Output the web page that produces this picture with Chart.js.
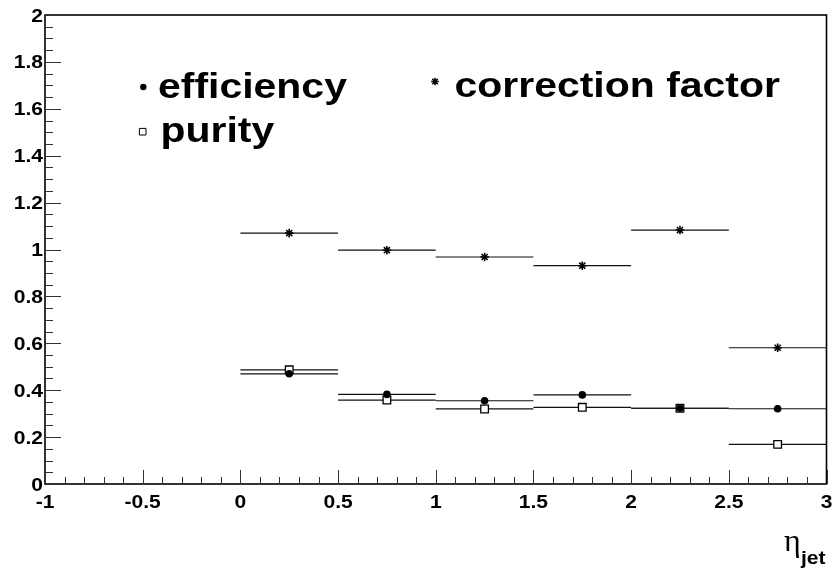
<!DOCTYPE html>
<html>
<head>
<meta charset="utf-8">
<script src="https://cdn.jsdelivr.net/npm/chart.js@4.4.1/dist/chart.umd.min.js"></script>
<style>
body { margin: 0; background: #fff; }
#wrap { width: 834px; height: 568px; position: relative; }
</style>
</head>
<body>
<div id="wrap"><canvas id="chart"></canvas></div>
<script>
// eta bins
var etaLow  = [0.0, 0.5, 1.0, 1.5, 2.0, 2.5];
var etaHigh = [0.5, 1.0, 1.5, 2.0, 2.5, 3.0];
var etaMid  = [0.25, 0.75, 1.25, 1.75, 2.25, 2.75];

var efficiency = [0.470, 0.382, 0.355, 0.380, 0.323, 0.321];
var purity     = [0.487, 0.358, 0.320, 0.327, 0.323, 0.169];
var corrFactor = [1.070, 0.997, 0.968, 0.931, 1.083, 0.581];

var xTickLabels = ['-1', '-0.5', '0', '0.5', '1', '1.5', '2', '2.5', '3'];
var yTickLabels = ['0', '0.2', '0.4', '0.6', '0.8', '1', '1.2', '1.4', '1.6', '1.8', '2'];

function points(ys) {
  return etaMid.map(function(x, i) { return { x: x, y: ys[i] }; });
}

// helvetica-ish text, a bit wider than the stock glyphs
var SX = 1.17;
function wideText(ctx, txt, x, y, font, align) {
  ctx.save();
  ctx.translate(x, y);
  ctx.scale(SX, 1);
  ctx.font = font;
  ctx.textAlign = align || 'left';
  ctx.textBaseline = 'alphabetic';
  ctx.fillStyle = '#000';
  ctx.fillText(txt, 0, 0);
  ctx.restore();
}

function marker(ctx, style, x, y) {
  ctx.save();
  ctx.strokeStyle = '#000';
  ctx.fillStyle = '#000';
  ctx.lineWidth = 1;
  ctx.beginPath();
  if (style === 'circle') {
    ctx.arc(x, y, 3.2, 0, Math.PI * 2);
    ctx.fill();
  } else if (style === 'square') {
    ctx.fillStyle = '#fff';
    ctx.rect(x - 3.3, y - 3.3, 6.6, 6.6);
    ctx.fill();
    ctx.stroke();
  } else {
    var r = 3.8, d = r * 0.72;
    ctx.lineWidth = 1.5;
    ctx.moveTo(x - r, y); ctx.lineTo(x + r, y);
    ctx.moveTo(x, y - r); ctx.lineTo(x, y + r);
    ctx.moveTo(x - d, y - d); ctx.lineTo(x + d, y + d);
    ctx.moveTo(x - d, y + d); ctx.lineTo(x + d, y - d);
    ctx.stroke();
  }
  ctx.restore();
}

function isMultiple(v, step) {
  var q = v / step;
  return Math.abs(q - Math.round(q)) < 1e-6;
}

var rootFrame = {
  id: 'rootFrame',
  beforeDatasetsDraw: function(chart) {
    // horizontal bars spanning each eta bin
    var ctx = chart.ctx, xs = chart.scales.x, ys = chart.scales.y;
    ctx.save();
    ctx.strokeStyle = '#111';
    ctx.lineWidth = 1.2;
    chart.data.datasets.forEach(function(ds) {
      ds.data.forEach(function(p, i) {
        var y = ys.getPixelForValue(p.y);
        ctx.beginPath();
        ctx.moveTo(xs.getPixelForValue(ds.binLow[i]), y);
        ctx.lineTo(xs.getPixelForValue(ds.binHigh[i]), y);
        ctx.stroke();
      });
    });
    ctx.restore();
  },
  afterDraw: function(chart) {
    var ctx = chart.ctx, a = chart.chartArea;
    var xs = chart.scales.x, ys = chart.scales.y;

    ctx.save();
    ctx.strokeStyle = '#000';
    ctx.lineWidth = 1.6;
    ctx.strokeRect(a.left, a.top, a.right - a.left, a.bottom - a.top);

    // ticks pointing into the frame
    ctx.lineWidth = 1;
    ctx.strokeStyle = '#333';
    ctx.beginPath();
    xs.ticks.forEach(function(t) {
      var px = Math.round(xs.getPixelForValue(t.value)) + 0.5;
      var len = isMultiple(t.value, 0.5) ? 14 : 7;
      ctx.moveTo(px, a.bottom);
      ctx.lineTo(px, a.bottom - len);
    });
    ys.ticks.forEach(function(t) {
      var py = Math.round(ys.getPixelForValue(t.value)) + 0.5;
      var len = isMultiple(t.value, 0.2) ? 16 : 8;
      ctx.moveTo(a.left, py);
      ctx.lineTo(a.left + len, py);
    });
    ctx.stroke();
    ctx.restore();

    var tickFont = 'bold 18px "Liberation Sans", Arial, sans-serif';
    xTickLabels.forEach(function(lab) {
      wideText(ctx, lab, xs.getPixelForValue(parseFloat(lab)), 508, tickFont, 'center');
    });
    yTickLabels.forEach(function(lab) {
      wideText(ctx, lab, a.left - 2, ys.getPixelForValue(parseFloat(lab)) + 6.5, tickFont, 'right');
    });

    // axis title: eta_jet
    ctx.save();
    ctx.font = '32px "Liberation Serif", serif';
    ctx.fillStyle = '#000';
    ctx.textBaseline = 'alphabetic';
    ctx.fillText('\u03b7', 784, 551);
    ctx.restore();
    wideText(ctx, 'jet', 801, 564, 'bold 18px "Liberation Sans", Arial, sans-serif', 'left');

    // legend
    var legFont = 'bold 35px "Liberation Sans", Arial, sans-serif';
    marker(ctx, 'circle', 143.3, 87);
    wideText(ctx, 'efficiency', 158, 98, legFont);
    marker(ctx, 'star', 435, 81.5);
    wideText(ctx, 'correction factor', 454.5, 97, legFont);
    marker(ctx, 'square', 142.7, 131.7);
    wideText(ctx, 'purity', 160.5, 141.5, legFont);
  }
};

new Chart(document.getElementById('chart'), {
  type: 'scatter',
  data: {
    datasets: [
      {
        label: 'efficiency',
        data: points(efficiency),
        binLow: etaLow, binHigh: etaHigh,
        pointStyle: 'circle',
        pointRadius: 3.8,
        backgroundColor: '#000',
        borderColor: '#000',
        borderWidth: 0
      },
      {
        label: 'purity',
        data: points(purity),
        binLow: etaLow, binHigh: etaHigh,
        pointStyle: 'rect',
        pointRadius: 5.4,
        backgroundColor: '#fff',
        borderColor: '#000',
        borderWidth: 1.3
      },
      {
        label: 'correction factor',
        data: points(corrFactor),
        binLow: etaLow, binHigh: etaHigh,
        pointStyle: 'star',
        pointRadius: 4.3,
        backgroundColor: '#000',
        borderColor: '#000',
        borderWidth: 1.6
      }
    ]
  },
  options: {
    responsive: true,
    maintainAspectRatio: false,
    animation: false,
    layout: { padding: { left: 45, top: 15, right: 7.5, bottom: 84 } },
    plugins: {
      legend: { display: false },
      tooltip: { enabled: false }
    },
    scales: {
      x: {
        type: 'linear',
        min: -1, max: 3,
        ticks: { display: false, stepSize: 0.1, maxTicksLimit: 100 },
        grid: { display: false, drawTicks: false },
        border: { display: false }
      },
      y: {
        min: 0, max: 2,
        ticks: { display: false, stepSize: 0.05, maxTicksLimit: 100 },
        grid: { display: false, drawTicks: false },
        border: { display: false }
      }
    }
  },
  plugins: [rootFrame]
});
</script>
</body>
</html>
